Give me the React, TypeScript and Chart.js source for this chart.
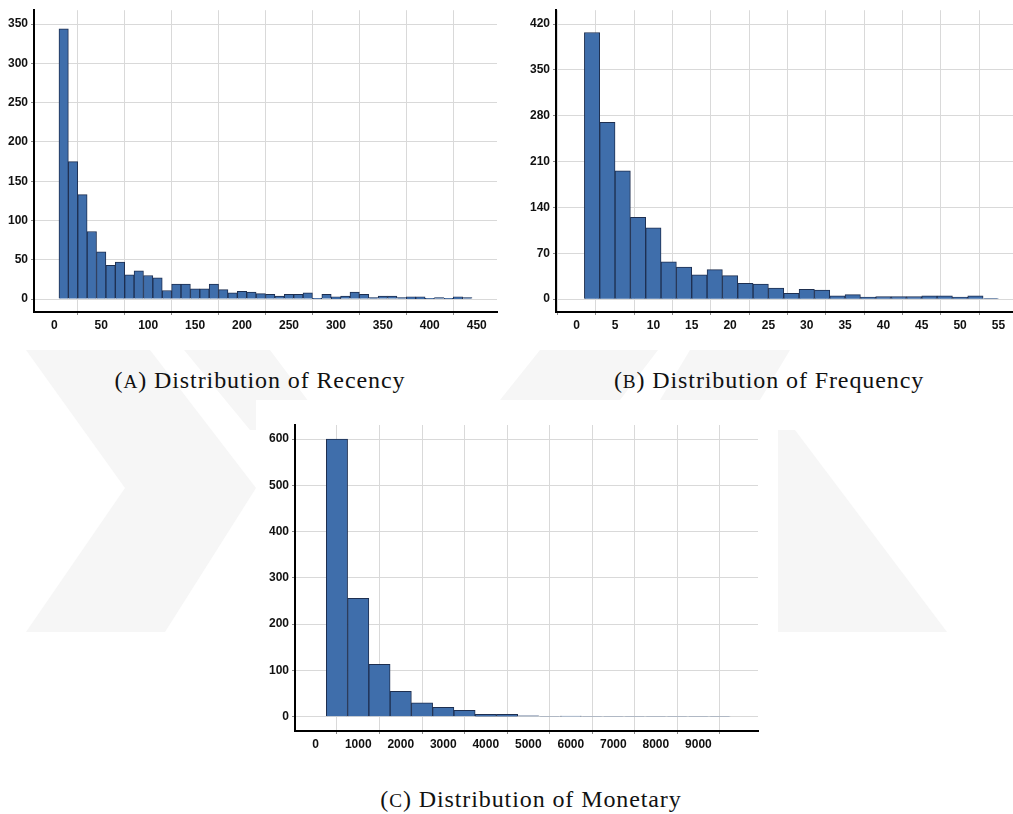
import React, { useEffect, useRef } from "react";
import { Chart, registerables } from "chart.js";

Chart.register(...registerables);

// ---------- Data ----------
const recencyBins = [10, 20, 30, 40, 50, 60, 70, 80, 90, 100, 110, 120, 130, 140, 150, 160, 170, 180, 190, 200, 210, 220, 230, 240, 250, 260, 270, 280, 290, 300, 310, 320, 330, 340, 350, 360, 370, 380, 390, 400, 410, 420, 430, 440];
const recencyCounts = [344, 175, 133, 86, 60, 43, 47, 31, 36, 30, 27, 11, 19, 19, 13, 13, 19, 12, 8, 10, 9, 7, 6, 4, 6, 6, 8, 1, 6, 3, 4, 9, 6, 2, 4, 4, 2, 3, 3, 1, 2, 1, 3, 2];
const recencyXTicks = [0, 50, 100, 150, 200, 250, 300, 350, 400, 450];
const recencyYTicks = [0, 50, 100, 150, 200, 250, 300, 350];

const frequencyBins = [2, 4, 6, 8, 10, 12, 14, 16, 18, 20, 22, 24, 26, 28, 30, 32, 34, 36, 38, 40, 42, 44, 46, 48, 50, 52, 54];
const frequencyCounts = [407, 270, 196, 125, 109, 57, 49, 37, 45, 36, 24, 23, 17, 9, 15, 14, 5, 7, 3, 4, 4, 4, 5, 5, 3, 5, 1];
const frequencyXTicks = [0, 5, 10, 15, 20, 25, 30, 35, 40, 45, 50, 55];
const frequencyYTicks = [0, 70, 140, 210, 280, 350, 420];

const monetaryBins = [500, 1000, 1500, 2000, 2500, 3000, 3500, 4000, 4500, 5000, 5500, 6000, 6500, 7000, 7500, 8000, 8500, 9000, 9500];
const monetaryCounts = [600, 256, 113, 55, 30, 20, 14, 5, 5, 2, 1, 1.5, 1, 1, 1, 1, 1, 1, 1];
const monetaryXTicks = [0, 1000, 2000, 3000, 4000, 5000, 6000, 7000, 8000, 9000];
const monetaryYTicks = [0, 100, 200, 300, 400, 500, 600];

const captionA = "Distribution of Recency";
const captionB = "Distribution of Frequency";
const captionC = "Distribution of Monetary";

type HistProps = {
  left: number;
  top: number;
  width: number;
  height: number;
  bins: number[];
  counts: number[];
  xTicks: number[];
  yTicks: number[];
  xMin: number;
  xMax: number;
  yMin: number;
  yMax: number;
  padTop: number;
  padRight: number;
  yAxisWidth: number;
  xAxisHeight: number;
};

function Histogram(p: HistProps) {
  const ref = useRef<HTMLCanvasElement | null>(null);
  useEffect(() => {
    if (!ref.current) return;
    const tickFont = { family: "'Liberation Sans', Arial, sans-serif", size: 12, weight: "bold" as const };
    const plain = (v: any) => String(v);
    const chart = new Chart(ref.current, {
      type: "bar",
      data: {
        datasets: [
          {
            data: p.bins.map((b, i) => ({ x: b, y: p.counts[i] })),
            backgroundColor: "#3f6eab",
            borderColor: "#1e2f50",
            borderWidth: 1,
            barPercentage: 1,
            categoryPercentage: 1,
          },
        ],
      },
      options: {
        animation: false,
        responsive: false,
        devicePixelRatio: 1,
        layout: { padding: { top: p.padTop, right: p.padRight, left: 0, bottom: 0 } },
        plugins: { legend: { display: false }, tooltip: { enabled: false } },
        scales: {
          x: {
            type: "linear",
            min: p.xMin,
            max: p.xMax,
            offset: false,
            afterBuildTicks: (s: any) => {
              s.ticks = p.xTicks.map((v) => ({ value: v }));
            },
            afterFit: (s: any) => {
              s.height = p.xAxisHeight;
            },
            ticks: { font: tickFont, color: "#111", padding: 3, maxRotation: 0, autoSkip: false, callback: plain },
            grid: { color: "#d9d9d9", lineWidth: 1, tickColor: "#8a8a8a", tickLength: 3, drawTicks: true },
            border: { display: true, color: "#000", width: 2 },
          },
          y: {
            type: "linear",
            min: p.yMin,
            max: p.yMax,
            afterBuildTicks: (s: any) => {
              s.ticks = p.yTicks.map((v) => ({ value: v }));
            },
            afterFit: (s: any) => {
              s.width = p.yAxisWidth;
            },
            ticks: { font: tickFont, color: "#111", padding: 3, autoSkip: false, callback: plain },
            grid: { color: "#d9d9d9", lineWidth: 1, tickColor: "#8a8a8a", tickLength: 3, drawTicks: true },
            border: { display: true, color: "#000", width: 2 },
          },
        },
      },
    } as any);
    return () => chart.destroy();
  }, []);
  return (
    <canvas
      ref={ref}
      width={p.width}
      height={p.height}
      style={{ position: "absolute", left: p.left, top: p.top, width: p.width, height: p.height }}
    />
  );
}

const captionStyle: React.CSSProperties = {
  position: "absolute",
  fontFamily: "'Liberation Serif', 'Times New Roman', serif",
  fontSize: 24,
  letterSpacing: 0.9,
  color: "#111",
  whiteSpace: "nowrap",
  transform: "translate(-50%, -50%)",
  lineHeight: 1,
};

function Caption({ x, y, letter, text }: { x: number; y: number; letter: string; text: string }) {
  return (
    <div style={{ ...captionStyle, left: x, top: y }}>
      (<span style={{ fontSize: "0.8em" }}>{letter}</span>) {text}
    </div>
  );
}

export default function App() {
  const wm = "#f6f6f6";
  return (
    <div style={{ position: "absolute", left: 0, top: 0, width: 1013, height: 814, background: "#fff", overflow: "hidden" }}>
      <svg width={1013} height={814} style={{ position: "absolute", left: 0, top: 0 }}>
        <polygon points="26,350 150,350 256,488 165,632 26,632 125,488" fill={wm} />
        <polygon points="184,350 270,350 330,430 250,430" fill={wm} />
        <polygon points="540,350 658,350 620,400 500,400" fill={wm} />
        <polygon points="690,350 790,350 760,400 660,400" fill={wm} />
        <polygon points="770,430 795,430 947,632 778,632" fill={wm} />
      </svg>
      <div style={{ position: "absolute", left: 256, top: 400, width: 522, height: 370, background: "#fff" }} />
      <Histogram
        left={0}
        top={0}
        width={500}
        height={340}
        bins={recencyBins}
        counts={recencyCounts}
        xTicks={recencyXTicks}
        yTicks={recencyYTicks}
        xMin={-21.6}
        xMax={471.6}
        yMin={-16.4}
        yMax={367.6}
        padTop={7}
        padRight={3}
        yAxisWidth={34}
        xAxisHeight={28}
      />
      <Histogram
        left={500}
        top={0}
        width={513}
        height={340}
        bins={frequencyBins}
        counts={frequencyCounts}
        xTicks={frequencyXTicks}
        yTicks={frequencyYTicks}
        xMin={-2.7}
        xMax={56.9}
        yMin={-19.6}
        yMax={441.1}
        padTop={7}
        padRight={0}
        yAxisWidth={56}
        xAxisHeight={28}
      />
      <Histogram
        left={250}
        top={400}
        width={520}
        height={360}
        bins={monetaryBins}
        counts={monetaryCounts}
        xTicks={monetaryXTicks}
        yTicks={monetaryYTicks}
        xMin={-487}
        xMax={10402}
        yMin={-30.9}
        yMax={630.3}
        padTop={25}
        padRight={12}
        yAxisWidth={45}
        xAxisHeight={29}
      />
      <Caption x={260} y={380} letter="A" text={captionA} />
      <Caption x={769} y={380} letter="B" text={captionB} />
      <Caption x={531} y={799} letter="C" text={captionC} />
    </div>
  );
}
